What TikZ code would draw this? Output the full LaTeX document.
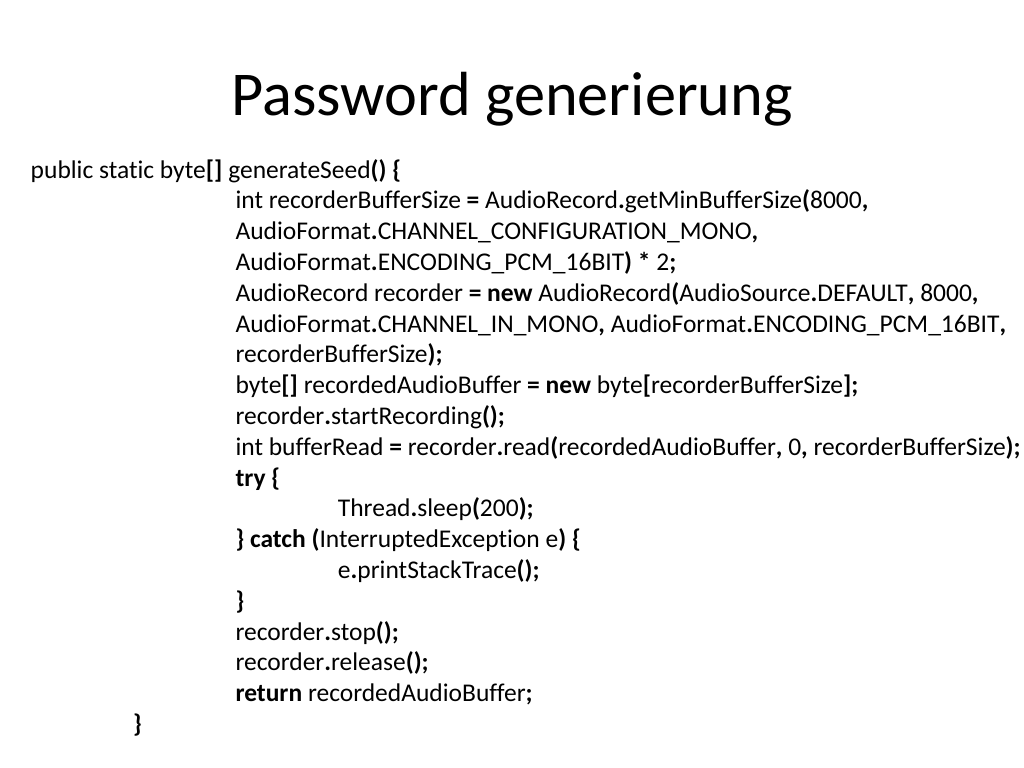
\documentclass[tikz,border=0pt]{standalone}
\usepackage{fontspec}
\setmainfont[Ligatures={NoCommon,NoRare}]{Carlito}
\usetikzlibrary{positioning}
\newcommand{\kw}[1]{\textbf{#1}}
\tikzset{
    base/.style={inner sep=0pt, outer sep=0pt, anchor=base west},
    slidetitle/.style={inner sep=0pt, anchor=base, font=\fontsize{44}{52.8}\selectfont},
    codeline/.style={base, font=\fontsize{18}{21.6}\selectfont}
}
\begin{document}
\begin{tikzpicture}[x=1bp, y=1bp]
  \useasboundingbox[fill=white] (0,0) rectangle (720,540);
  % Title
  \node[slidetitle] (title) at (360,459.1) {Password generierung};

  % Method head
  \node[codeline] (l1) at (21.6,414.8) {public static byte\kw{[]} generateSeed\kw{() \{}};
  % Body, first tab stop
  \node[codeline] (l2) at (165.6,393.14) {int recorderBufferSize \kw{=} AudioRecord\kw{.}getMinBufferSize\kw{(}8000\kw{,}};
  \node[codeline] (l3) at (165.6,371.48) {AudioFormat\kw{.}CHANNEL\_CONFIGURATION\_MONO\kw{,}};
  \node[codeline] (l4) at (165.6,349.82) {AudioFormat\kw{.}ENCODING\_PCM\_16BIT\kw{)} \kw{*} 2\kw{;}};
  \node[codeline] (l5) at (165.6,328.16) {AudioRecord recorder \kw{= new} AudioRecord\kw{(}AudioSource\kw{.}DEFAULT\kw{,} 8000\kw{,}};
  \node[codeline] (l6) at (165.6,306.5) {AudioFormat\kw{.}CHANNEL\_IN\_MONO\kw{,} AudioFormat\kw{.}ENCODING\_PCM\_16BIT\kw{,}};
  \node[codeline] (l7) at (165.6,284.84) {recorderBufferSize\kw{);}};
  \node[codeline] (l8) at (165.6,263.18) {byte\kw{[]} recordedAudioBuffer \kw{= new} byte\kw{[}recorderBufferSize\kw{];}};
  \node[codeline] (l9) at (165.6,241.52) {recorder\kw{.}startRecording\kw{();}};
  \node[codeline] (l10) at (165.6,219.86) {int bufferRead \kw{=} recorder\kw{.}read\kw{(}recordedAudioBuffer\kw{,} 0\kw{,} recorderBufferSize\kw{);}};
  \node[codeline] (l11) at (165.6,198.2) {\kw{try \{}};
  \node[codeline] (l12) at (237.6,176.54) {Thread\kw{.}sleep\kw{(}200\kw{);}};
  \node[codeline] (l13) at (165.6,154.88) {\kw{\} catch (}InterruptedException e\kw{) \{}};
  \node[codeline] (l14) at (237.6,133.22) {e\kw{.}printStackTrace\kw{();}};
  \node[codeline] (l15) at (165.6,111.56) {\kw{\}}};
  \node[codeline] (l16) at (165.6,89.9) {recorder\kw{.}stop\kw{();}};
  \node[codeline] (l17) at (165.6,68.24) {recorder\kw{.}release\kw{();}};
  \node[codeline] (l18) at (165.6,46.58) {\kw{return} recordedAudioBuffer\kw{;}};
  % Closing brace
  \node[codeline] (l19) at (93.6,24.92) {\kw{\}}};
\end{tikzpicture}
\end{document}
